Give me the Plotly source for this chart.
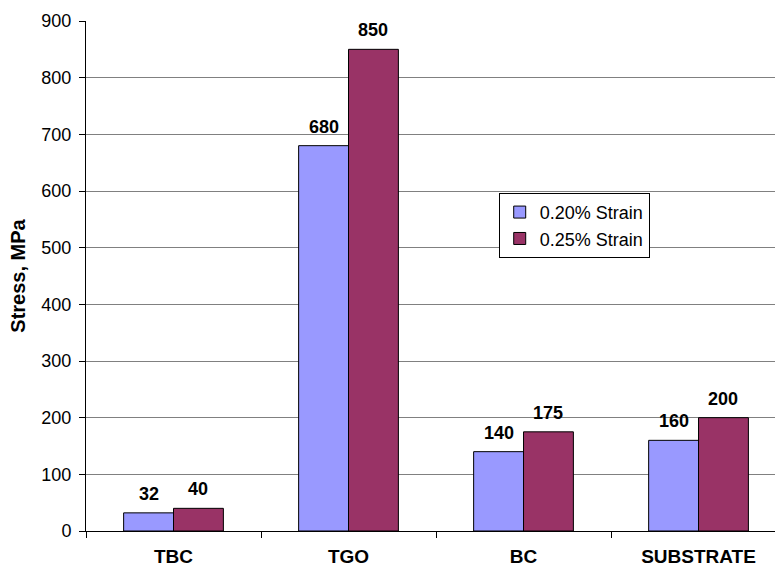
import plotly.graph_objects as go

categories = ["TBC", "TGO", "BC", "SUBSTRATE"]
strain_020 = [32, 680, 140, 160]
strain_025 = [40, 850, 175, 200]
series_names = ["0.20% Strain", "0.25% Strain"]
colors = ["#9999FF", "#993366"]

bargap = 0.43
half = (1 - bargap) / 4  # center offset of each bar in a 2-bar group

fig = go.Figure()
for name, vals, col in zip(series_names, [strain_020, strain_025], colors):
    fig.add_trace(go.Bar(
        x=categories, y=vals, name=name,
        marker=dict(color=col, line=dict(color="#000000", width=1)),
    ))

annotations = []
for vals, off in [(strain_020, -half), (strain_025, half)]:
    for i, v in enumerate(vals):
        annotations.append(dict(
            x=i + off, y=v, xref="x", yref="y", text=f"<b>{v}</b>",
            showarrow=False, yanchor="bottom", yshift=7,
            font=dict(family="Liberation Sans, Arial", size=18, color="#000000"),
        ))

fig.update_layout(
    width=775, height=568,
    margin=dict(l=86, r=0, t=21, b=37),
    paper_bgcolor="white", plot_bgcolor="white",
    barmode="group", bargap=bargap, bargroupgap=0,
    font=dict(family="Liberation Sans, Arial", size=17, color="#000000"),
    annotations=annotations,
    legend=dict(
        x=0.599, y=0.663, xanchor="left", yanchor="top",
        bgcolor="white", bordercolor="#000000", borderwidth=1,
        font=dict(size=18), tracegroupgap=0, itemwidth=30,
    ),
    xaxis=dict(
        type="category", range=[-0.5, 3.437],
        showline=True, linecolor="#000000", linewidth=1,
        ticks="outside", tickson="boundaries", ticklen=6, tickcolor="#000000",
        showgrid=False, ticklabelstandoff=8,
        tickfont=dict(size=19, family="Liberation Sans, Arial"),
        tickprefix="<b>", ticksuffix="</b>",
    ),
    yaxis=dict(
        range=[0, 900], dtick=100, tick0=0,
        showline=True, linecolor="#000000", linewidth=1,
        ticks="outside", ticklen=6, tickcolor="#000000",
        showgrid=True, gridcolor="#808080", gridwidth=1,
        zeroline=False, ticklabelstandoff=4,
        tickfont=dict(size=18),
        title=dict(text="<b>Stress, MPa</b>", font=dict(size=20), standoff=10),
    ),
)

fig.write_html("out.html")
